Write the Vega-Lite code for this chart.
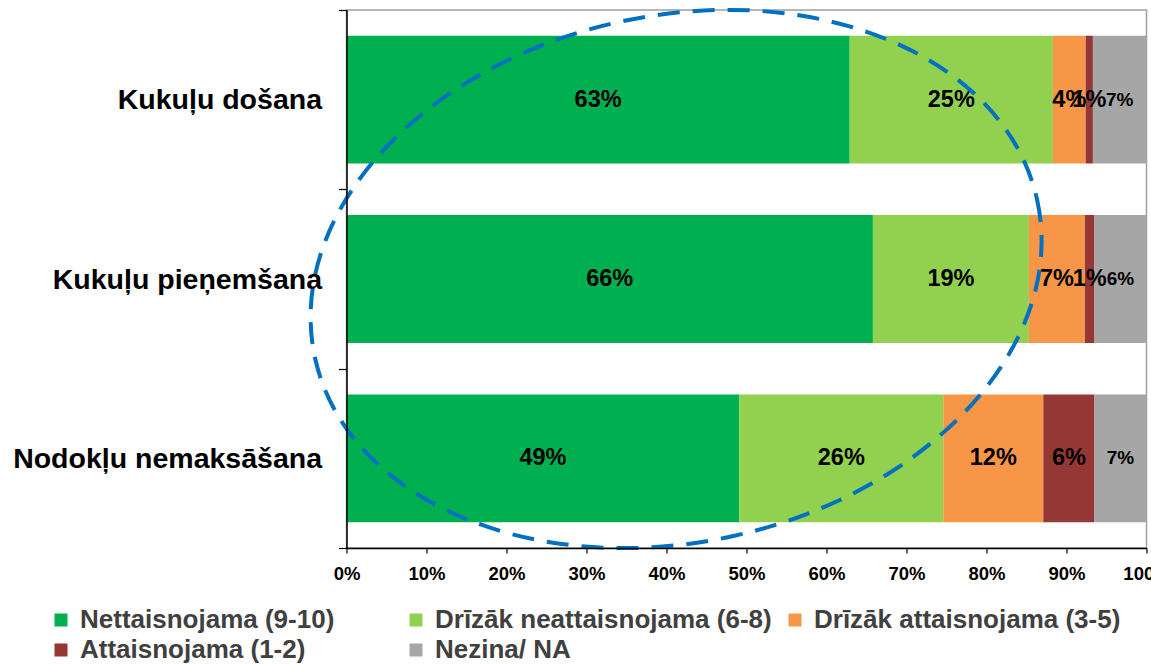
{
  "$schema": "https://vega.github.io/schema/vega-lite/v6.json",
  "width": 800,
  "height": 538,
  "autosize": {"type": "none"},
  "padding": {"left": 346.5, "top": 10, "right": 4.5, "bottom": 116},
  "background": "white",
  "config": {
    "view": {"stroke": "#A0A0A0", "strokeWidth": 1.5},
    "font": "Liberation Sans"
  },
  "datasets": {
    "shares": [
      {"item": "Kukuļu došana", "k": 1, "cat": "Nettaisnojama (9-10)", "value": 62.9, "label": "63%"},
      {"item": "Kukuļu došana", "k": 2, "cat": "Drīzāk neattaisnojama (6-8)", "value": 25.4, "label": "25%"},
      {"item": "Kukuļu došana", "k": 3, "cat": "Drīzāk attaisnojama (3-5)", "value": 4.1, "label": "4%"},
      {"item": "Kukuļu došana", "k": 4, "cat": "Attaisnojama (1-2)", "value": 0.9, "label": "1%"},
      {"item": "Kukuļu došana", "k": 5, "cat": "Nezina/ NA", "value": 6.7, "label": "7%"},
      {"item": "Kukuļu pieņemšana", "k": 1, "cat": "Nettaisnojama (9-10)", "value": 65.8, "label": "66%"},
      {"item": "Kukuļu pieņemšana", "k": 2, "cat": "Drīzāk neattaisnojama (6-8)", "value": 19.5, "label": "19%"},
      {"item": "Kukuļu pieņemšana", "k": 3, "cat": "Drīzāk attaisnojama (3-5)", "value": 7.0, "label": "7%"},
      {"item": "Kukuļu pieņemšana", "k": 4, "cat": "Attaisnojama (1-2)", "value": 1.2, "label": "1%"},
      {"item": "Kukuļu pieņemšana", "k": 5, "cat": "Nezina/ NA", "value": 6.5, "label": "6%"},
      {"item": "Nodokļu nemaksāšana", "k": 1, "cat": "Nettaisnojama (9-10)", "value": 49.1, "label": "49%"},
      {"item": "Nodokļu nemaksāšana", "k": 2, "cat": "Drīzāk neattaisnojama (6-8)", "value": 25.5, "label": "26%"},
      {"item": "Nodokļu nemaksāšana", "k": 3, "cat": "Drīzāk attaisnojama (3-5)", "value": 12.5, "label": "12%"},
      {"item": "Nodokļu nemaksāšana", "k": 4, "cat": "Attaisnojama (1-2)", "value": 6.4, "label": "6%"},
      {"item": "Nodokļu nemaksāšana", "k": 5, "cat": "Nezina/ NA", "value": 6.5, "label": "7%"}
    ],
    "highlight": [
      {"item": "Kukuļu pieņemšana", "cx": 41.2}
    ]
  },
  "layer": [
    {
      "data": {"name": "shares"},
      "mark": {"type": "bar", "height": {"band": 0.713}},
      "encoding": {
        "y": {
          "field": "item", "type": "nominal",
          "sort": ["Kukuļu došana", "Kukuļu pieņemšana", "Nodokļu nemaksāšana"],
          "scale": {"paddingInner": 0, "paddingOuter": 0},
          "axis": {
            "title": null, "labelFontSize": 28.5, "labelFontWeight": "bold", "labelColor": "#000000",
            "labelPadding": 17, "tickSize": 8, "tickBand": "extent", "domainColor": "#000000",
            "tickColor": "#000000", "domainWidth": 1.5, "tickWidth": 1.2, "zindex": 1, "labelLimit": 400
          }
        },
        "x": {
          "field": "value", "type": "quantitative", "stack": "zero",
          "scale": {"domain": [0, 100], "nice": false},
          "axis": {
            "title": null, "values": [0, 10, 20, 30, 40, 50, 60, 70, 80, 90, 100],
            "labelExpr": "datum.value + '%'", "labelFontSize": 18.5, "labelFontWeight": "bold",
            "labelColor": "#000000", "labelFlush": false, "labelOverlap": false, "labelPadding": 11,
            "tickSize": 5, "tickColor": "#000000", "domainColor": "#000000", "domainWidth": 1.5,
            "tickWidth": 1.2, "grid": false, "zindex": 1
          }
        },
        "color": {
          "field": "cat", "type": "nominal",
          "scale": {
            "domain": ["Nettaisnojama (9-10)", "Drīzāk neattaisnojama (6-8)", "Drīzāk attaisnojama (3-5)", "Attaisnojama (1-2)", "Nezina/ NA"],
            "range": ["#00B050", "#92D050", "#F79646", "#953735", "#A6A6A6"]
          },
          "legend": {
            "title": null, "orient": "none", "legendX": -298.5, "legendY": 597,
            "direction": "horizontal", "columns": 3, "columnPadding": 10, "rowPadding": 4,
            "symbolType": "square", "symbolSize": 169, "symbolStrokeWidth": 0, "labelOffset": 6,
            "labelFontSize": 26, "labelFontWeight": "bold", "labelColor": "#404040", "labelLimit": 700,
            "padding": 0,
            "labelExpr": "datum.label == 'Nettaisnojama (9-10)' ? datum.label + '\u00a0\u00a0\u00a0\u00a0\u00a0\u00a0\u00a0\u00a0\u200b' : datum.label"
          }
        },
        "order": {"field": "k", "type": "quantitative"}
      }
    },
    {
      "data": {"name": "shares"},
      "mark": {"type": "text", "fontWeight": "bold", "color": "#000000", "font": "Liberation Sans"},
      "encoding": {
        "y": {"field": "item", "type": "nominal", "sort": ["Kukuļu došana", "Kukuļu pieņemšana", "Nodokļu nemaksāšana"]},
        "x": {"field": "value", "type": "quantitative", "stack": "zero", "bandPosition": 0.5},
        "text": {"field": "label"},
        "size": {"condition": {"test": "datum.cat == 'Nezina/ NA'", "value": 19}, "value": 23.5},
        "order": {"field": "k", "type": "quantitative"}
      }
    },
    {
      "data": {"name": "highlight"},
      "mark": {
        "type": "point",
        "shape": "M 1 0 C 1 0.3935 0.5523 0.7124 0 0.7124 C -0.5523 0.7124 -1 0.3935 -1 0 C -1 -0.3935 -0.5523 -0.7124 0 -0.7124 C 0.5523 -0.7124 1 -0.3935 1 0 Z",
        "size": 546417,
        "angle": 347.7,
        "filled": false,
        "stroke": "#0070C0",
        "strokeWidth": 4,
        "strokeDash": [22, 13],
        "opacity": 1
      },
      "encoding": {
        "x": {"field": "cx", "type": "quantitative"},
        "y": {"field": "item", "type": "nominal", "sort": ["Kukuļu došana", "Kukuļu pieņemšana", "Nodokļu nemaksāšana"]}
      }
    }
  ]
}
